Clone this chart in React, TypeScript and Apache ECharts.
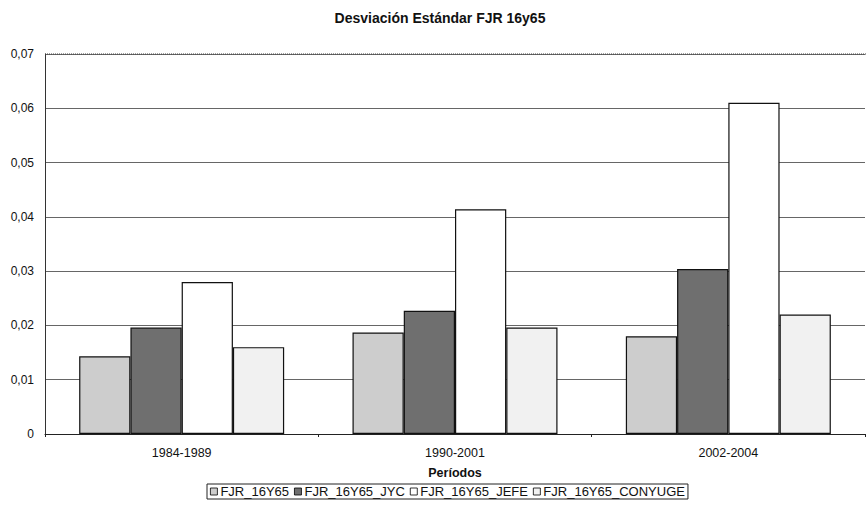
import React, { useEffect, useRef } from "react";
import * as echarts from "echarts";

const categories = ["1984-1989", "1990-2001", "2002-2004"];
const seriesNames = ["FJR_16Y65", "FJR_16Y65_JYC", "FJR_16Y65_JEFE", "FJR_16Y65_CONYUGE"];
const fjr16y65 = [0.0143, 0.0187, 0.018];
const fjrJyc = [0.0196, 0.0227, 0.0304];
const fjrJefe = [0.028, 0.0414, 0.061];
const fjrConyuge = [0.016, 0.0196, 0.022];
const seriesValues = [fjr16y65, fjrJyc, fjrJefe, fjrConyuge];
const fills = ["#cdcdcd", "#6f6f6f", "#ffffff", "#f1f1f1"];

export default function App() {
  const ref = useRef<HTMLDivElement>(null);
  useEffect(() => {
    if (!ref.current) return;
    document.body.style.margin = "0";
    const chart = echarts.init(ref.current, null, { renderer: "svg" });
    const font = "Arial, 'Liberation Sans', sans-serif";
    chart.setOption({
      animation: false,
      backgroundColor: "#ffffff",
      title: {
        text: "Desviación Estándar FJR 16y65",
        left: 435,
        textAlign: "center",
        top: 6,
        textStyle: { fontFamily: font, fontSize: 14, fontWeight: "bold", color: "#111" },
      },
      legend: {
        top: 484,
        left: 207,
        data: seriesNames,
        icon: "rect",
        itemWidth: 7,
        itemHeight: 7,
        itemGap: 5,
        padding: [1, 3],
        borderColor: "#222",
        borderWidth: 1,
        textStyle: { fontFamily: font, fontSize: 13, color: "#111", padding: [0, 0, 0, -2] },
        itemStyle: { borderColor: "#000", borderWidth: 0.8 },
      },
      grid: { left: 45, right: 1, top: 54, bottom: 76, containLabel: false },
      xAxis: {
        type: "category",
        data: categories,
        name: "Períodos",
        nameLocation: "middle",
        nameGap: 32,
        nameTextStyle: { fontFamily: font, fontSize: 12.5, fontWeight: "bold", color: "#111" },
        axisLine: { lineStyle: { color: "#222", width: 1 } },
        axisTick: { show: true, length: 3, lineStyle: { color: "#222" } },
        axisLabel: { fontFamily: font, fontSize: 12.5, color: "#111", margin: 12 },
      },
      yAxis: {
        type: "value",
        min: 0,
        max: 0.07,
        interval: 0.01,
        axisLine: { show: true, lineStyle: { color: "#333", width: 1 } },
        axisTick: { show: false },
        axisLabel: {
          fontFamily: font,
          fontSize: 12,
          color: "#111",
          margin: 11,
          formatter: (v: number) => (v === 0 ? "0" : v.toFixed(2).replace(".", ",")),
        },
        splitLine: { show: true, lineStyle: { color: "#666", width: 1 } },
      },
      series: seriesValues.map((vals, i) => ({
        name: seriesNames[i],
        type: "bar",
        data: vals,
        barGap: "0%",
        barCategoryGap: "25%",
        itemStyle: { color: fills[i], borderColor: "#111", borderWidth: 1.2 },
      })),
      graphic: [
        {
          type: "line",
          shape: { x1: 45, y1: 54, x2: 866, y2: 54 },
          style: { stroke: "#444", lineWidth: 1, lineDash: [1, 1] },
          z: 10,
        },
      ],
    });
    return () => chart.dispose();
  }, []);
  return <div ref={ref} style={{ width: 866, height: 510 }} />;
}
